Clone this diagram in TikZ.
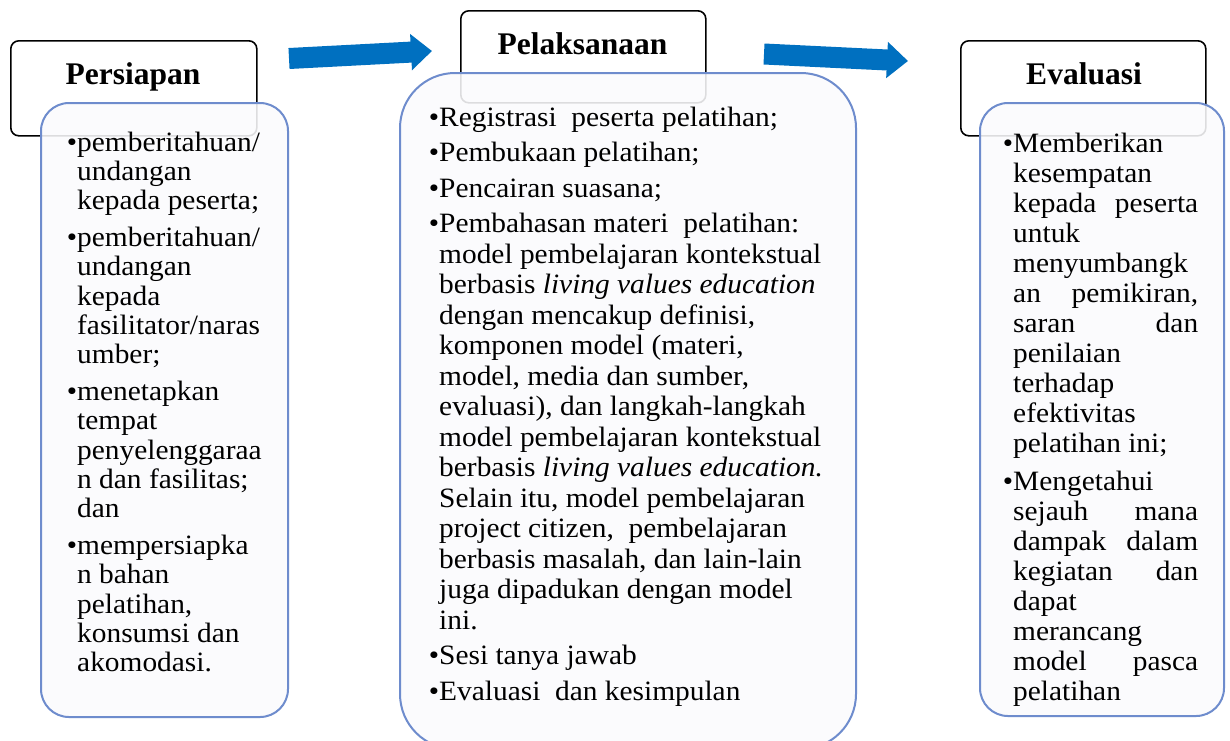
\documentclass[tikz,border=0pt]{standalone}
\usepackage{fontspec}
\setmainfont{Liberation Serif}[FakeStretch=1.05]
\newfontfamily\headfont{Liberation Serif}
\usetikzlibrary{arrows.meta}
\definecolor{arrowblue}{RGB}{0,112,192}
\definecolor{boxblue}{RGB}{110,140,205}
\definecolor{boxfill}{RGB}{251,251,253}
\newcommand\itembul{\leavevmode\llap{\textbullet}}
\newcommand\jline[1]{\makebox[\linewidth][s]{#1}}
\tikzset{
  titlebox/.style={draw=black, line width=1.6pt, rounded corners=8pt, fill=white, inner sep=0pt, anchor=north west},
  contentbox/.style={draw=boxblue, line width=2pt, fill=boxfill, fill opacity=0.88, inner sep=0pt, anchor=north west},
  headtext/.style={font={\headfont\bfseries\fontsize{31.5}{36}\selectfont}, inner sep=0pt, anchor=base},
  bodytext/.style={inner sep=0pt, anchor=base west},
  blockarrow/.style={draw=arrowblue, line width=21pt, -{Triangle[length=21pt,width=35pt]}},
}
\begin{document}
\begin{tikzpicture}[x=1pt,y=-1pt]
\useasboundingbox (0,0) rectangle (1230,740);
\fill[white] (0,0) rectangle (1230,740);
\begin{scope}
\clip (0,0) rectangle (1230,740);
% title boxes
\node[titlebox, minimum width=246pt, minimum height=95pt] (t1) at (10,40) {};
\node[titlebox, minimum width=245pt, minimum height=92pt] (t2) at (460,10) {};
\node[titlebox, minimum width=245pt, minimum height=95pt] (t3) at (960,40) {};
\node[headtext] (h1) at (133,84) {Persiapan};
\node[headtext] (h2) at (582.5,54) {Pelaksanaan};
\node[headtext] (h3) at (1084,84) {Evaluasi};
% content boxes
\node[contentbox, rounded corners=28pt, minimum width=247pt, minimum height=614pt] (c1) at (40,102) {};
\node[contentbox, rounded corners=55pt, minimum width=456pt, minimum height=676pt] (c2) at (399,72) {};
\node[contentbox, rounded corners=28pt, minimum width=244pt, minimum height=613pt] (c3) at (979,102) {};
% texts
\node[bodytext] (b1) at (77,151) {\parbox[t]{210pt}{\fontsize{28}{29.2}\selectfont\raggedright
\itembul pemberitahuan/\\ undangan\\ kepada peserta;\\[8pt]
\itembul pemberitahuan/\\ undangan\\ kepada\\ fasilitator/naras\\ umber;\\[8pt]
\itembul menetapkan\\ tempat\\ penyelenggaraa\\ n dan fasilitas;\\ dan\\[8pt]
\itembul mempersiapka\\ n bahan\\ pelatihan,\\ konsumsi dan\\ akomodasi.}};
\node[bodytext] (b2) at (439,126) {\parbox[t]{420pt}{\fontsize{28}{30.5}\selectfont\raggedright
\itembul Registrasi\ \ peserta pelatihan;\\[5pt]
\itembul Pembukaan pelatihan;\\[5pt]
\itembul Pencairan suasana;\\[5pt]
\itembul Pembahasan materi\ \ pelatihan:\\
model pembelajaran kontekstual\\
berbasis \textit{living values education}\\
dengan mencakup definisi,\\
komponen model (materi,\\
model, media dan sumber,\\
evaluasi), dan langkah-langkah\\
model pembelajaran kontekstual\\
berbasis \textit{living values education.}\\
Selain itu, model pembelajaran\\
project citizen,\ \ pembelajaran\\
berbasis masalah, dan lain-lain\\
juga dipadukan dengan model\\
ini.\\[5pt]
\itembul Sesi tanya jawab\\[5pt]
\itembul Evaluasi\ \ dan kesimpulan}};
\node[bodytext] (b3) at (1013,152) {\parbox[t]{185pt}{\fontsize{28}{30}\selectfont\raggedright
\itembul Memberikan\\ kesempatan\\ \jline{kepada peserta}\\ untuk\\ menyumbangk\\ \jline{an pemikiran,}\\ \jline{saran dan}\\ penilaian\\ terhadap\\ efektivitas\\ pelatihan ini;\\[8pt]
\itembul Mengetahui\\ \jline{sejauh mana}\\ \jline{dampak dalam}\\ \jline{kegiatan dan}\\ dapat\\ merancang\\ \jline{model pasca}\\ pelatihan}};
% arrows
\coordinate (a1s) at (289,58.5);
\coordinate (a1e) at (432,51);
\coordinate (a2s) at (764,54);
\coordinate (a2e) at (908,61);
\draw[blockarrow] (a1s) -- (a1e);
\draw[blockarrow] (a2s) -- (a2e);
\end{scope}
\end{tikzpicture}
\end{document}
